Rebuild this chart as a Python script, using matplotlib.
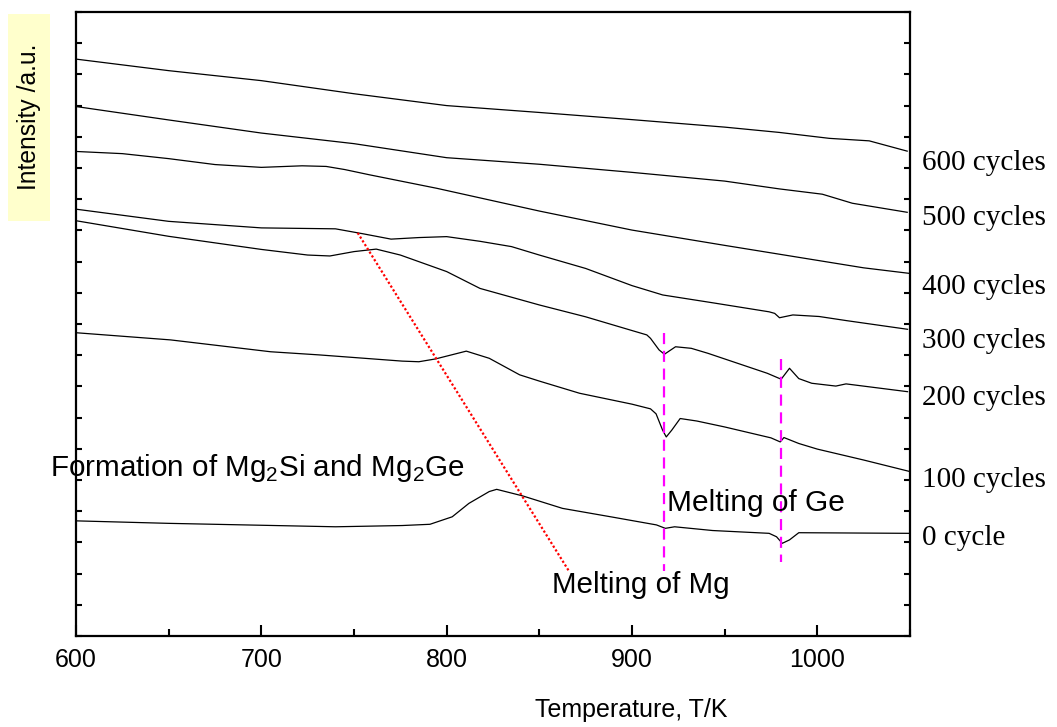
import numpy as np
import matplotlib
matplotlib.use("Agg")
import matplotlib.pyplot as plt
from matplotlib.patches import Rectangle
from matplotlib.transforms import blended_transform_factory

plt.rcParams['font.family'] = ['Liberation Sans', 'DejaVu Sans']

# DTA-Kurven (Temperatur in K, Intensität in willkürlichen Einheiten)
t_600 = [600, 650, 700, 750, 800, 850, 900, 950, 979.5, 1006.5, 1028, 1048.5]
i_600 = [18.49, 18.12, 17.80, 17.38, 17.00, 16.78, 16.55, 16.31, 16.14, 15.95, 15.87, 15.54]

t_500 = [600, 650, 700, 750, 800, 850, 900, 950, 979.5, 1002.7, 1018.9, 1048.5]
i_500 = [16.97, 16.54, 16.12, 15.78, 15.33, 15.12, 14.86, 14.58, 14.33, 14.16, 13.87, 13.58]

t_400 = [600, 625, 650, 675, 700, 722, 735, 745, 758.5, 794.6, 850, 900, 950, 1000, 1025, 1050]
i_400 = [15.53, 15.46, 15.30, 15.11, 15.02, 15.07, 15.05, 14.95, 14.78, 14.35, 13.62, 13.01,
         12.52, 12.04, 11.80, 11.62]

t_300 = [600, 650, 700, 740, 755, 770, 785, 800, 818, 835, 850, 875, 900, 916.6, 943.5,
         974, 977, 979.6, 986.8, 1001, 1015.5, 1048.7]
i_300 = [13.68, 13.29, 13.08, 13.05, 12.89, 12.72, 12.77, 12.80, 12.65, 12.48, 12.21, 11.78,
         11.23, 10.93, 10.68, 10.39, 10.34, 10.20, 10.29, 10.24, 10.11, 9.83]

t_200 = [600, 650, 700, 725, 737, 750, 762, 775, 800, 818, 850, 875, 900, 908, 910, 914.6,
         917.5, 923.5, 932, 941, 973, 980.5, 985, 990, 997, 1010, 1015.5, 1048.7]
i_200 = [13.31, 12.81, 12.39, 12.21, 12.18, 12.32, 12.40, 12.21, 11.68, 11.14, 10.61, 10.23,
         9.79, 9.65, 9.54, 9.17, 9.03, 9.27, 9.22, 9.06, 8.42, 8.23, 8.58, 8.25, 8.10, 8.01,
         8.08, 7.83]

t_100 = [600, 651, 705, 731, 776, 785, 794, 810.6, 823, 839.4, 850, 871.7, 900, 910, 913,
         916.5, 918.5, 921.5, 926, 935, 950, 975, 980, 982, 990, 1000, 1025, 1050]
i_100 = [9.72, 9.49, 9.11, 9.01, 8.81, 8.79, 8.88, 9.13, 8.90, 8.37, 8.17, 7.78, 7.43, 7.28,
         7.12, 6.60, 6.38, 6.60, 6.97, 6.89, 6.70, 6.35, 6.22, 6.36, 6.17, 5.99, 5.64, 5.27]

t_0 = [600, 650, 740, 776, 791, 803, 812, 823, 827, 841, 862.5, 889.5, 913.2, 918, 923,
       943.5, 974, 978, 981.1, 985, 990, 1050]
i_0 = [3.69, 3.61, 3.50, 3.54, 3.58, 3.82, 4.25, 4.63, 4.70, 4.49, 4.09, 3.81, 3.56, 3.45,
       3.50, 3.38, 3.29, 3.18, 2.97, 3.08, 3.31, 3.29]

kurven = [(t_600, i_600), (t_500, i_500), (t_400, i_400), (t_300, i_300),
          (t_200, i_200), (t_100, i_100), (t_0, i_0)]

namen = ["600 cycles", "500 cycles", "400 cycles", "300 cycles",
         "200 cycles", "100 cycles", "0 cycle"]
namen_y = [15.16, 13.40, 11.19, 9.46, 7.63, 5.00, 3.14]

# Hilfslinien
mg_t = [752, 866.3]
mg_i = [12.92, 2.05]
ge_t1 = [917.5, 917.5]
ge_i1 = [9.71, 2.08]
ge_t2 = [980.6, 980.6]
ge_i2 = [8.88, 2.37]

fig = plt.figure(figsize=(10.57, 7.27), dpi=100)
ax = fig.add_axes([0.0719, 0.1252, 0.789, 0.8583])

for t, i in kurven:
    ax.plot(t, i, color='black', lw=0.9)

ax.plot(mg_t, mg_i, color='red', lw=1.6, linestyle=(0, (1, 1)))
ax.plot(ge_t1, ge_i1, color='#ff00ff', lw=1.6, linestyle=(0, (5, 3)))
ax.plot(ge_t2, ge_i2, color='#ff00ff', lw=1.6, linestyle=(0, (5, 3)))

ax.set_xlim(600, 1050)
ax.set_ylim(0, 20)
ax.set_xticks([600, 700, 800, 900, 1000])
ax.set_xticks([650, 750, 850, 950, 1050], minor=True)
ax.set_yticks(np.arange(0, 21, 1))
ax.set_yticklabels([])
ax.tick_params(axis='x', which='major', direction='in', length=8, width=1.5,
               labelsize=18, pad=9)
ax.tick_params(axis='x', which='minor', direction='in', length=5, width=1.5)
ax.tick_params(axis='y', direction='in', length=4, width=1.5, left=True, right=True)
for s in ax.spines.values():
    s.set_linewidth(1.6)

# Beschriftung rechts
trans = blended_transform_factory(ax.transAxes, ax.transData)
for n, y in zip(namen, namen_y):
    ax.text(1.0144, y, n, transform=trans, ha='left', va='center',
            fontsize=21, family='Liberation Serif')

ax.text(586, 5.38, "Formation of Mg$_\\mathregular{2}$Si and Mg$_\\mathregular{2}$Ge",
        fontsize=21.3, ha='left', va='center')
ax.text(919, 4.26, "Melting of Ge", fontsize=21.5, ha='left', va='center')
ax.text(856.6, 1.63, "Melting of Mg", fontsize=21.3, ha='left', va='center')

# y-Achsenbeschriftung im gelben Kasten
fig.patches.append(Rectangle((8 / 1057, 1 - 221 / 727), 42 / 1057, 207 / 727,
                             transform=fig.transFigure, facecolor='#ffffcc',
                             edgecolor='none', zorder=0))
fig.text(29 / 1057, 1 - 117 / 727, "Intensity /a.u.", rotation=90,
         ha='center', va='center', fontsize=17.7)
fig.text(631 / 1057, 1 - 710 / 727, "Temperature, T/K", ha='center', va='center',
         fontsize=18)

fig.savefig("out.png", dpi=100)
